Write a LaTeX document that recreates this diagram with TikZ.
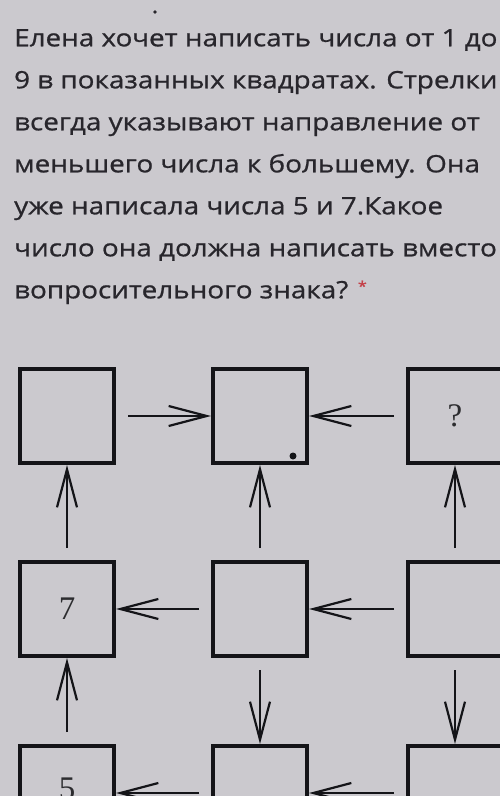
\documentclass[tikz,border=0pt]{standalone}
\usepackage{fontspec}
\newfontfamily\uifont[FakeStretch=1.16, FakeBold=0.8]{Open Sans}
\newfontfamily\digitfont{Liberation Serif}
\usetikzlibrary{arrows.meta, positioning}
\definecolor{screenbg}{RGB}{203,201,206}
\definecolor{inkgray}{RGB}{40,38,44}
\definecolor{inkdark}{RGB}{20,20,24}
\definecolor{starred}{RGB}{196,64,72}
\tikzset{
  cell/.style={rectangle, draw=inkdark, line width=4pt, minimum size=94pt,
    inner sep=0pt, font=\digitfont\fontsize{33}{33}\selectfont, text=inkdark!90},
  arrow/.style={-{Straight Barb[length=38pt, width=20pt]}, line width=2.2pt,
    color=inkdark, shorten <=12pt},
  question/.style={font=\uifont\fontsize{24}{42}\selectfont, text=inkgray,
    align=left, anchor=north west, inner sep=0pt}
}
\begin{document}
\begin{tikzpicture}[x=1pt, y=1pt, node distance=95pt]
  \fill [screenbg] (0,0) rectangle (500,-796);
  \useasboundingbox (0,0) rectangle (500,-796);
  \clip (0,0) rectangle (500,-796);
  % task text
  \node [question] (task) at (14,-29) {Елена хочет написать числа от 1 до\\
    9 в показанных квадратах. Стрелки\\
    всегда указывают направление от\\
    меньшего числа к большему. Она\\
    уже написала числа 5 и 7.Какое\\
    число она должна написать вместо\\
    вопросительного знака? \raisebox{7pt}{\fontsize{14}{14}\selectfont\color{starred}*}};
  \fill [inkgray] (155,-12) circle (1.8);
  % squares
  \node [cell] (a1) at (67,-416) {};
  \node [cell, right=of a1] (a2) {};
  \node [cell, right=97pt of a2] (a3) {?};
  \node [cell, below=of a1] (b1) {7};
  \node [cell, below=of a2] (b2) {};
  \node [cell, below=of a3] (b3) {};
  \node [cell, below=86pt of b1] (c1) {\raisebox{8pt}{5}};
  \node [cell, below=86pt of b2] (c2) {};
  \node [cell, below=86pt of b3] (c3) {};
  \fill [inkdark] ([shift={(-16,9)}]a2.south east) circle (3.5);
  % arrows, smaller to bigger
  \draw [arrow] (a1) -- (a2);
  \draw [arrow] (a3) -- (a2);
  \draw [arrow] (b1) -- (a1);
  \draw [arrow] (b2) -- (a2);
  \draw [arrow] (b3) -- (a3);
  \draw [arrow] (b2) -- (b1);
  \draw [arrow] (b3) -- (b2);
  \draw [arrow] (c1) -- (b1);
  \draw [arrow] (b2) -- (c2);
  \draw [arrow] (b3) -- (c3);
  \draw [arrow] (c2) -- (c1);
  \draw [arrow] (c3) -- (c2);
\end{tikzpicture}
\end{document}
